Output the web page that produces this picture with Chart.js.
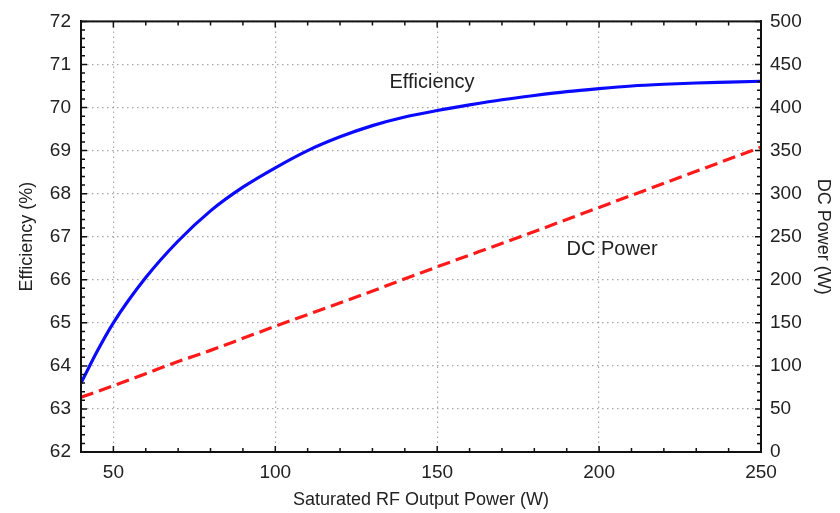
<!DOCTYPE html>
<html>
<head>
<meta charset="utf-8">
<script src="https://cdn.jsdelivr.net/npm/chart.js@4.4.1/dist/chart.umd.min.js"></script>
<style>
  html, body { margin: 0; padding: 0; background: #fff; }
  #wrap { width: 840px; height: 513px; }
</style>
</head>
<body>
<div id="wrap"><canvas id="myChart" width="840" height="513"></canvas></div>
<script>
// RF output power (W) and efficiency (%)
const effX = [40, 45, 50, 60, 70, 80, 90, 100, 110, 120, 130, 140, 150, 160, 170, 180, 190, 200, 210, 220, 230, 240, 250];
const effY = [63.6, 64.34, 65.0, 66.05, 66.9, 67.6, 68.15, 68.6, 69.0, 69.32, 69.58, 69.78, 69.93, 70.06, 70.18, 70.28, 70.37, 70.44, 70.5, 70.54, 70.57, 70.59, 70.61];

// RF output power (W) and DC power (W)
const dcX = [40, 50, 60, 70, 80, 90, 100, 125, 150, 175, 200, 225, 250];
const dcY = [63.5, 77, 91, 105, 118, 132, 146, 180, 215, 249, 284, 319, 354];

const xTicks = [50, 100, 150, 200, 250];
const yTicks = [62, 63, 64, 65, 66, 67, 68, 69, 70, 71, 72];
const y2Ticks = [0, 50, 100, 150, 200, 250, 300, 350, 400, 450, 500];

const FONT = '"Liberation Sans", Arial, sans-serif';
const TXT = '#222';

const toPts = (xs, ys) => xs.map((v, i) => ({ x: v, y: ys[i] }));

// inward ticks, top/right frame and curve labels
const frame = {
    id: 'frame',
    afterDraw(chart) {
        const { ctx, chartArea: a, scales: { x, y, y2 } } = chart;
        ctx.save();
        ctx.strokeStyle = '#111';
        ctx.lineWidth = 1.5;
        ctx.beginPath();
        for (let v = 40; v <= 250; v += 10) {
            const px = x.getPixelForValue(v);
            const len = v % 50 === 0 ? 6 : 4;
            ctx.moveTo(px, a.bottom); ctx.lineTo(px, a.bottom - len);
            ctx.moveTo(px, a.top); ctx.lineTo(px, a.top + len);
        }
        for (let v = 62; v <= 72.001; v += 0.2) {
            const py = y.getPixelForValue(v);
            const len = Math.abs(v - Math.round(v)) < 0.01 ? 6 : 4;
            ctx.moveTo(a.left, py); ctx.lineTo(a.left + len, py);
        }
        for (let v = 0; v <= 500; v += 10) {
            const py = y2.getPixelForValue(v);
            const len = v % 50 === 0 ? 6 : 4;
            ctx.moveTo(a.right, py); ctx.lineTo(a.right - len, py);
        }
        ctx.stroke();
        ctx.lineWidth = 2;
        ctx.strokeRect(a.left, a.top, a.right - a.left, a.bottom - a.top);

        ctx.fillStyle = TXT;
        ctx.font = '20px ' + FONT;
        ctx.textAlign = 'center';
        ctx.textBaseline = 'middle';
        ctx.fillText('Efficiency', x.getPixelForValue(148.4), y.getPixelForValue(70.58));
        ctx.fillText('DC Power', x.getPixelForValue(204), y.getPixelForValue(66.71));
        ctx.restore();
    }
};

const gridOpts = { color: '#a8a8a8', lineWidth: 1.2, drawTicks: false };
const borderOpts = { display: true, color: '#111', width: 2, dash: [1.5, 3.5] };

const ctx = document.getElementById('myChart').getContext('2d');
const myChart = new Chart(ctx, {
    type: 'line',
    data: {
        datasets: [{
            label: 'Efficiency',
            data: toPts(effX, effY),
            yAxisID: 'y',
            borderColor: '#0a0aff',
            borderWidth: 3.2,
            pointRadius: 0,
            cubicInterpolationMode: 'monotone',
            fill: false
        }, {
            label: 'DC Power',
            data: toPts(dcX, dcY),
            yAxisID: 'y2',
            borderColor: '#ff1a1a',
            borderWidth: 3.2,
            borderDash: [13, 6],
            pointRadius: 0,
            cubicInterpolationMode: 'monotone',
            fill: false
        }]
    },
    options: {
        responsive: false,
        animation: false,
        devicePixelRatio: 1,
        layout: { padding: { top: 19, left: 0, right: 0, bottom: 0 } },
        plugins: { legend: { display: false }, tooltip: { enabled: false } },
        scales: {
            x: {
                type: 'linear',
                min: 40,
                max: 250,
                afterBuildTicks: s => { s.ticks = xTicks.map(v => ({ value: v })); },
                afterFit: s => { s.height = 61; },
                grid: gridOpts,
                border: borderOpts,
                ticks: { color: TXT, font: { family: FONT, size: 19 }, padding: 9, maxRotation: 0 },
                title: { display: true, text: 'Saturated RF Output Power (W)', color: TXT, font: { family: FONT, size: 18 }, padding: { top: 0, bottom: 2 } }
            },
            y: {
                type: 'linear',
                position: 'left',
                min: 62,
                max: 72,
                afterBuildTicks: s => { s.ticks = yTicks.map(v => ({ value: v })); },
                afterFit: s => { s.width = 81; },
                grid: gridOpts,
                border: borderOpts,
                ticks: { color: TXT, font: { family: FONT, size: 19 }, padding: 10 },
                title: { display: true, text: 'Efficiency (%)', color: TXT, font: { family: FONT, size: 18 }, padding: { top: 16, bottom: 0 } }
            },
            y2: {
                type: 'linear',
                position: 'right',
                min: 0,
                max: 500,
                afterBuildTicks: s => { s.ticks = y2Ticks.map(v => ({ value: v })); },
                afterFit: s => { s.width = 79; },
                grid: { display: false, drawTicks: false },
                border: { display: true, color: '#111', width: 2 },
                ticks: { color: TXT, font: { family: FONT, size: 19 }, padding: 9 },
                title: { display: true, text: 'DC Power (W)', color: TXT, font: { family: FONT, size: 18 }, padding: { top: 6, bottom: 0 } }
            }
        }
    },
    plugins: [frame]
});
</script>
</body>
</html>
